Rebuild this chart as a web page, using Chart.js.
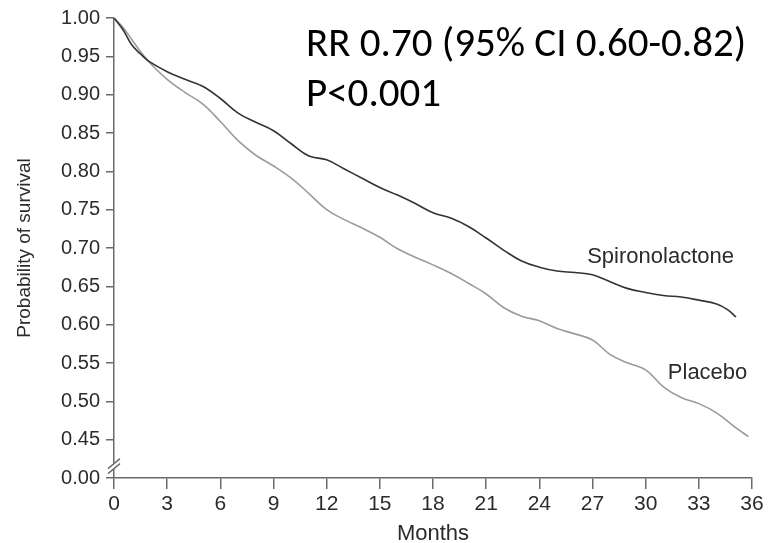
<!DOCTYPE html>
<html>
<head>
<meta charset="utf-8">
<script src="https://cdn.jsdelivr.net/npm/chart.js@4.4.1/dist/chart.umd.min.js"></script>
<style>
  html, body { margin: 0; padding: 0; background: #fff; }
  #wrap { width: 769px; height: 543px; }
</style>
</head>
<body>
<div id="wrap"><canvas id="survivalChart" width="769" height="543"></canvas></div>
<script>
// values
const spiroMonths = [0, 0.5, 1, 1.5, 2, 3, 4, 5, 6, 7, 8, 9, 10, 11, 12, 13, 14, 15, 16, 17, 18, 19, 20, 21, 22, 23, 24, 25, 26, 27, 28, 29, 30, 31, 32, 33, 34, 34.6, 35.1];
const spiroSurv = [1.000, 0.985, 0.965, 0.953, 0.943, 0.930, 0.920, 0.911, 0.895, 0.876, 0.864, 0.853, 0.836, 0.820, 0.815, 0.803, 0.791, 0.779, 0.769, 0.758, 0.746, 0.739, 0.728, 0.713, 0.697, 0.683, 0.675, 0.670, 0.668, 0.665, 0.656, 0.647, 0.642, 0.638, 0.636, 0.632, 0.627, 0.620, 0.610];

const placeboMonths = [0, 0.5, 1, 1.5, 2, 3, 4, 5, 6, 7, 8, 9, 10, 11, 12, 13, 14, 15, 16, 17, 18, 19, 20, 21, 22, 23, 24, 25, 26, 27, 28, 29, 30, 31, 32, 33, 34, 35, 35.8];
const placeboSurv = [1.000, 0.988, 0.972, 0.956, 0.942, 0.920, 0.903, 0.888, 0.865, 0.840, 0.821, 0.807, 0.791, 0.771, 0.750, 0.737, 0.726, 0.714, 0.699, 0.688, 0.678, 0.667, 0.654, 0.640, 0.622, 0.611, 0.605, 0.595, 0.588, 0.580, 0.561, 0.550, 0.541, 0.519, 0.505, 0.497, 0.485, 0.467, 0.454];

const yTickValues = [0.40, 0.45, 0.50, 0.55, 0.60, 0.65, 0.70, 0.75, 0.80, 0.85, 0.90, 0.95, 1.00];
const yTickLabels = ['0.00', '0.45', '0.50', '0.55', '0.60', '0.65', '0.70', '0.75', '0.80', '0.85', '0.90', '0.95', '1.00'];

const seriesLabels = [
    { text: 'Spironolactone', x: 26.7, y: 0.681 },
    { text: 'Placebo', x: 31.25, y: 0.529 }
];
const statLines = ['RR 0.70 (95% CI 0.60-0.82)', 'P<0.001'];

function toPoints(xs, ys) {
    return xs.map((x, i) => ({ x: x, y: ys[i] }));
}

const AXIS_COLOR = '#6a6a6a';
const TEXT_COLOR = '#2b2b2b';
const SANS = '"Liberation Sans", Arial, Helvetica, sans-serif';

// break mark on the y axis, series labels and the RR text
const extrasPlugin = {
    id: 'extras',
    afterDraw(chart) {
        const ctx = chart.ctx;
        const xs = chart.scales.x;
        const ys = chart.scales.y;
        ctx.save();

        // axis break between 0.00 and 0.45
        const bx = xs.left;
        const by = ys.getPixelForValue(0.4155);
        ctx.fillStyle = '#fff';
        ctx.fillRect(bx - 3, by - 3, 6, 6);
        ctx.strokeStyle = AXIS_COLOR;
        ctx.lineWidth = 1.4;
        [-2.5, 2.5].forEach(d => {
            ctx.beginPath();
            ctx.moveTo(bx - 6, by + d + 5);
            ctx.lineTo(bx + 6, by + d - 5);
            ctx.stroke();
        });

        ctx.fillStyle = TEXT_COLOR;
        ctx.font = '22px ' + SANS;
        ctx.textBaseline = 'alphabetic';
        ctx.textAlign = 'left';
        seriesLabels.forEach(l => {
            ctx.fillText(l.text, xs.getPixelForValue(l.x), ys.getPixelForValue(l.y));
        });

        ctx.fillStyle = '#000';
        ctx.font = '41px Carlito, Calibri, Lato, sans-serif';
        ctx.fillText(statLines[0], 306, 56);
        ctx.fillText(statLines[1], 306, 106);
        ctx.restore();
    }
};

new Chart(document.getElementById('survivalChart'), {
    type: 'line',
    data: {
        datasets: [{
            label: 'Spironolactone',
            data: toPoints(spiroMonths, spiroSurv),
            borderColor: '#333333',
            borderWidth: 1.6,
            pointRadius: 0,
            tension: 0.4,
            fill: false
        }, {
            label: 'Placebo',
            data: toPoints(placeboMonths, placeboSurv),
            borderColor: '#9b9b9b',
            borderWidth: 1.6,
            pointRadius: 0,
            tension: 0.4,
            fill: false
        }]
    },
    options: {
        responsive: false,
        animation: false,
        events: [],
        layout: { padding: { left: 0, top: 16, right: 17, bottom: 0 } },
        plugins: { legend: { display: false }, tooltip: { enabled: false } },
        scales: {
            x: {
                type: 'linear',
                min: 0,
                max: 36,
                afterFit: s => { s.height = 65; },
                ticks: { stepSize: 3, color: TEXT_COLOR, font: { family: SANS, size: 21 }, padding: 3, maxRotation: 0 },
                grid: { drawOnChartArea: false, drawTicks: true, tickLength: 11, color: AXIS_COLOR, lineWidth: 1.5 },
                border: { color: AXIS_COLOR, width: 1.5 },
                title: { display: true, text: 'Months', color: TEXT_COLOR, font: { family: SANS, size: 22, lineHeight: 1 }, padding: { top: 0, bottom: -2 } }
            },
            y: {
                type: 'linear',
                min: 0.4,
                max: 1.0,
                afterFit: s => { s.width = 114; },
                afterBuildTicks: s => { s.ticks = yTickValues.map(v => ({ value: v })); },
                ticks: {
                    color: TEXT_COLOR,
                    font: { family: SANS, size: 20 },
                    padding: 6,
                    callback: (v) => yTickLabels[yTickValues.findIndex(t => Math.abs(t - v) < 1e-6)]
                },
                grid: { drawOnChartArea: false, drawTicks: true, tickLength: 8, color: AXIS_COLOR, lineWidth: 1.5 },
                border: { color: AXIS_COLOR, width: 1.5 },
                title: { display: true, text: 'Probability of survival', color: TEXT_COLOR, font: { family: SANS, size: 19 }, padding: { top: 13, bottom: 0 } }
            }
        }
    },
    plugins: [extrasPlugin]
});
</script>
</body>
</html>
